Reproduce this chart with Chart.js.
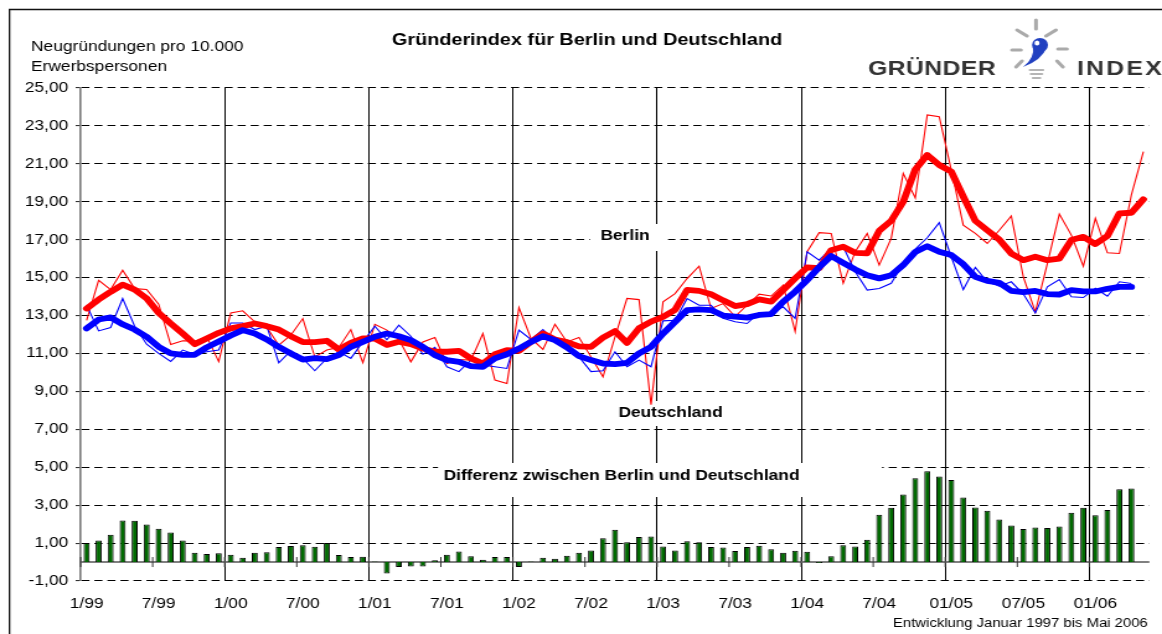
<!DOCTYPE html>
<html><head><meta charset="utf-8">
<script src="https://cdn.jsdelivr.net/npm/chart.js@4.4.0/dist/chart.umd.min.js"></script>
<style>html,body{margin:0;padding:0;background:#fff;overflow:hidden}canvas{display:block}</style>
</head><body>
<canvas id="c" width="937" height="634" style="width:1162px;height:634px"></canvas>
<script>
// ---- data ----
const categories = [];
for (let y = 1999; y <= 2006; y++) for (let m = 1; m <= 12; m++) { if (y === 2006 && m > 5) break; categories.push(m + '/' + String(y).slice(2)); }

const tickLabels = ['1/99','7/99','1/00','7/00','1/01','7/01','1/02','7/02','1/03','7/03','1/04','7/04','01/05','07/05','01/06'];

const berlin = [12.75,14.86,14.37,15.39,14.42,14.37,13.6,11.47,11.67,11.65,
11.9,10.57,13.14,13.25,12.67,12.37,11.44,11.96,12.84,10.82,
11.18,11.32,12.26,10.51,12.54,12.23,11.75,10.56,11.61,11.84,
10.47,10.68,10.65,12.05,9.6,9.42,13.42,11.79,11.21,12.54,
11.61,11.84,10.82,9.77,11.88,13.9,13.84,8.3,13.72,14.16,
14.95,15.6,13.37,13.63,12.95,13.55,14.13,14.03,14.6,12.15,
16.37,17.37,17.33,14.7,16.37,17.33,15.66,17.07,20.5,19.2,
23.58,23.49,20.68,17.77,17.33,16.8,17.5,18.25,15.04,13.19,
15.74,18.35,17.24,15.6,18.12,16.31,16.27,19.36,21.64];

const berlinAvg = [13.37,13.84,14.25,14.63,14.37,13.9,13.14,12.58,12.05,11.49,
11.79,12.09,12.32,12.44,12.58,12.44,12.26,11.91,11.6,11.6,
11.67,11.21,11.56,11.79,11.79,11.45,11.62,11.49,11.26,11.09,
11.09,11.14,10.74,10.47,10.96,11.18,11.14,11.61,12.05,11.74,
11.6,11.37,11.35,11.83,12.18,11.56,12.33,12.68,12.93,13.3,
14.35,14.3,14.12,13.8,13.5,13.6,13.85,13.73,14.34,14.96,
15.54,15.5,16.45,16.63,16.31,16.28,17.47,18.0,19.0,20.7,
21.47,20.94,20.59,19.27,18.0,17.5,17.0,16.27,15.92,16.1,
15.92,16.0,16.98,17.15,16.77,17.19,18.39,18.42,19.13];

const deutschland = [13.54,12.19,12.37,13.9,12.44,11.49,11.0,10.58,11.18,10.96,
11.09,11.18,12.61,12.61,12.26,12.44,10.51,11.14,10.74,10.09,
10.74,11.09,10.74,11.61,12.44,11.72,12.49,11.91,10.96,11.32,
10.3,10.04,10.65,10.39,10.3,10.21,12.23,11.74,12.26,11.67,
11.44,10.82,10.04,10.09,11.09,10.3,10.65,10.3,12.72,12.75,
13.89,13.54,13.54,12.85,12.67,12.58,13.15,13.11,13.46,12.85,
16.36,15.92,16.54,16.63,15.31,14.34,14.43,14.7,15.75,16.5,
17.1,17.9,16.1,14.37,15.54,14.78,14.55,14.78,14.13,13.14,
14.51,14.9,13.99,13.95,14.44,14.02,14.78,14.69];

const deutschlandAvg = [12.32,12.79,12.9,12.54,12.26,11.88,11.35,11.0,10.93,10.93,
11.32,11.63,11.95,12.23,12.05,11.74,11.35,11.0,10.68,10.75,
10.7,10.91,11.35,11.61,11.88,12.05,11.91,11.7,11.35,10.91,
10.65,10.56,10.33,10.3,10.74,10.96,11.26,11.61,11.91,11.7,
11.32,10.86,10.65,10.47,10.44,10.51,11.0,11.35,12.05,12.67,
13.28,13.32,13.29,13.0,12.94,12.89,13.03,13.08,13.73,14.26,
14.87,15.55,16.14,15.78,15.43,15.13,14.96,15.13,15.66,16.35,
16.66,16.36,16.19,15.71,15.04,14.83,14.73,14.3,14.23,14.3,
14.13,14.11,14.34,14.27,14.27,14.41,14.51,14.51];

const differenz = [1.0,1.14,1.44,2.19,2.18,1.98,1.75,1.56,1.14,0.49,
0.42,0.47,0.39,0.23,0.49,0.51,0.79,0.84,0.89,0.81,
1.0,0.37,0.26,0.28,0.03,-0.61,-0.26,-0.23,-0.23,0.09,
0.39,0.56,0.3,0.12,0.26,0.26,-0.26,0.03,0.23,0.18,
0.33,0.49,0.61,1.26,1.7,1.05,1.32,1.35,0.82,0.61,
1.09,1.04,0.79,0.77,0.58,0.79,0.86,0.67,0.49,0.6,
0.54,-0.05,0.3,0.88,0.82,1.18,2.49,2.86,3.56,4.42,
4.79,4.51,4.33,3.4,2.88,2.7,2.25,1.93,1.74,1.82,
1.79,1.88,2.6,2.86,2.47,2.75,3.84,3.88];

// ---- drawing ----
const FONT = "'Liberation Sans', Arial, sans-serif";
const S = 1162 / 937;          // horizontal stretch of the picture
const X = d => d / S;          // display x -> canvas x

Chart.defaults.font.family = FONT;
Chart.defaults.color = '#000';

const decor = {
  id: 'decor',
  beforeDatasetsDraw(chart) {
    const ctx = chart.ctx, ca = chart.chartArea, xs = chart.scales.x, ys = chart.scales.y;
    ctx.save();
    ctx.fillStyle = '#fff';
    [[590, 224, 668, 251], [612, 401, 728, 426], [438, 463, 882, 497]].forEach(b => {
      ctx.fillRect(X(b[0]), b[1], X(b[2]) - X(b[0]), b[3] - b[1]);
    });
    const y0 = ys.getPixelForValue(0);
    ctx.strokeStyle = '#808080'; ctx.lineWidth = 2;
    ctx.beginPath(); ctx.moveTo(ca.left, y0); ctx.lineTo(ca.right, y0); ctx.stroke();
    const cw = (ca.right - ca.left) / categories.length;
    ctx.strokeStyle = '#333'; ctx.lineWidth = 1;
    for (let i = 0; i < categories.length; i += 6) {
      const x = xs.getPixelForValue(i) - cw / 2;
      ctx.beginPath(); ctx.moveTo(x, y0 - 5); ctx.lineTo(x, y0 + 5); ctx.stroke();
    }
    ctx.fillStyle = '#000'; ctx.textAlign = 'center'; ctx.textBaseline = 'middle';
    ctx.font = 'bold 14px ' + FONT;
    ctx.fillText('Berlin', X(625), 236);
    ctx.fillText('Deutschland', X(670.5), 413);
    ctx.fillText('Differenz zwischen Berlin und Deutschland', X(621.5), 476);
    ctx.restore();
  },
  afterDraw(chart) {
    const ctx = chart.ctx;
    ctx.save();
    ctx.strokeStyle = '#111'; ctx.lineWidth = 1.3;
    ctx.beginPath(); ctx.moveTo(X(9.5), 640); ctx.lineTo(X(9.5), 9.5); ctx.lineTo(940, 9.5); ctx.stroke();
    ctx.fillStyle = '#000'; ctx.textBaseline = 'middle'; ctx.textAlign = 'left';
    ctx.font = '14px ' + FONT;
    ctx.fillText('Neugründungen pro 10.000', X(31), 47);
    ctx.fillText('Erwerbspersonen', X(31), 67);
    ctx.textAlign = 'center';
    ctx.font = 'bold 16px ' + FONT;
    ctx.fillText('Gründerindex für Berlin und Deutschland', X(587), 41);
    ctx.textAlign = 'left';
    ctx.font = '12px ' + FONT;
    ctx.fillText('Entwicklung Januar 1997 bis Mai 2006', X(893), 624);
    ctx.fillStyle = '#333';
    ctx.font = 'bold 20px ' + FONT;
    ctx.textBaseline = 'alphabetic';
    const spaced = (txt, x0, y, gap) => { let x = x0; for (const ch of txt) { ctx.fillText(ch, x, y); x += ctx.measureText(ch).width + gap; } };
    spaced('GRÜNDER', X(868), 75, 0.3);
    spaced('INDEX', X(1077), 75, 1.8);
    ctx.strokeStyle = '#aaa'; ctx.lineWidth = 3; ctx.lineCap = 'round';
    [[1036,20,1036,29],[1017,30,1027,36],[1056,30,1046,36],[1012,50,1021,50],[1058,49,1067,49],[1016,67,1022,61],[1057,61,1063,67]]
      .forEach(r => { ctx.beginPath(); ctx.moveTo(X(r[0]), r[1]); ctx.lineTo(X(r[2]), r[3]); ctx.stroke(); });
    ctx.strokeStyle = '#b5b5b5'; ctx.lineWidth = 2.2;
    [[1030,70,1043,70],[1031,74,1042,74],[1033,78,1040,78]]
      .forEach(r => { ctx.beginPath(); ctx.moveTo(X(r[0]), r[1]); ctx.lineTo(X(r[2]), r[3]); ctx.stroke(); });
    ctx.fillStyle = '#2140c0';
    ctx.beginPath(); ctx.ellipse(X(1040), 45, 8 / S, 7, 0, 0, Math.PI * 2); ctx.fill();
    ctx.beginPath();
    ctx.moveTo(X(1033), 46);
    ctx.quadraticCurveTo(X(1035), 58, X(1023), 67);
    ctx.quadraticCurveTo(X(1042), 60, X(1047), 47);
    ctx.closePath(); ctx.fill();
    ctx.fillStyle = '#fff';
    ctx.beginPath(); ctx.ellipse(X(1037), 43, 2.5 / S, 2.5, 0, 0, Math.PI * 2); ctx.fill();
    ctx.restore();
  }
};

new Chart(document.getElementById('c'), {
  type: 'bar',
  data: {
    labels: categories,
    datasets: [
      { type: 'bar', label: 'Differenz', data: differenz, backgroundColor: '#006a00', borderColor: '#000', borderWidth: 1,
        barPercentage: 0.5, categoryPercentage: 1.0, order: 5 },
      { type: 'line', label: 'Berlin', data: berlin, borderColor: '#ff0000', borderWidth: 1.1, pointRadius: 0, tension: 0, order: 4 },
      { type: 'line', label: 'Deutschland', data: deutschland, borderColor: '#0000ff', borderWidth: 1.1, pointRadius: 0, tension: 0, order: 3 },
      { type: 'line', label: 'Berlin Trend', data: berlinAvg, borderColor: '#ff0000', borderWidth: 5.8, pointRadius: 0, tension: 0,
        borderJoinStyle: 'round', borderCapStyle: 'round', order: 2 },
      { type: 'line', label: 'Deutschland Trend', data: deutschlandAvg, borderColor: '#0000ff', borderWidth: 5.8, pointRadius: 0, tension: 0,
        borderJoinStyle: 'round', borderCapStyle: 'round', order: 1 }
    ]
  },
  options: {
    responsive: false, animation: false, devicePixelRatio: 1, events: [],
    layout: { padding: { left: 0, right: 1, top: 88, bottom: 0 } },
    plugins: { legend: { display: false }, tooltip: { enabled: false }, title: { display: false } },
    scales: {
      x: {
        type: 'category', offset: true,
        grid: { offset: true, drawTicks: false, lineWidth: 1,
          color: c => (c.index > 0 && c.index % 12 === 0) ? '#000' : 'rgba(0,0,0,0)' },
        border: { display: false },
        ticks: { autoSkip: false, maxRotation: 0, minRotation: 0, padding: 15, font: { size: 14 }, color: '#000',
          callback: (v, i) => (i % 6 === 0 && tickLabels[i / 6]) ? tickLabels[i / 6] : '' },
        afterFit: s => { s.height = 53; }
      },
      y: {
        type: 'linear', min: -1, max: 25,
        ticks: { stepSize: 2, padding: 6, font: { size: 14 }, color: '#000',
          callback: v => v.toFixed(2).replace('.', ',') },
        grid: { color: '#000', lineWidth: 1.1, tickLength: 4, tickColor: '#333', tickBorderDash: [] },
        border: { display: true, color: '#777', width: 1.6, dash: [6.5, 4] },
        afterFit: s => { s.width = 65; }
      }
    }
  },
  plugins: [decor]
});
</script>
</body></html>
